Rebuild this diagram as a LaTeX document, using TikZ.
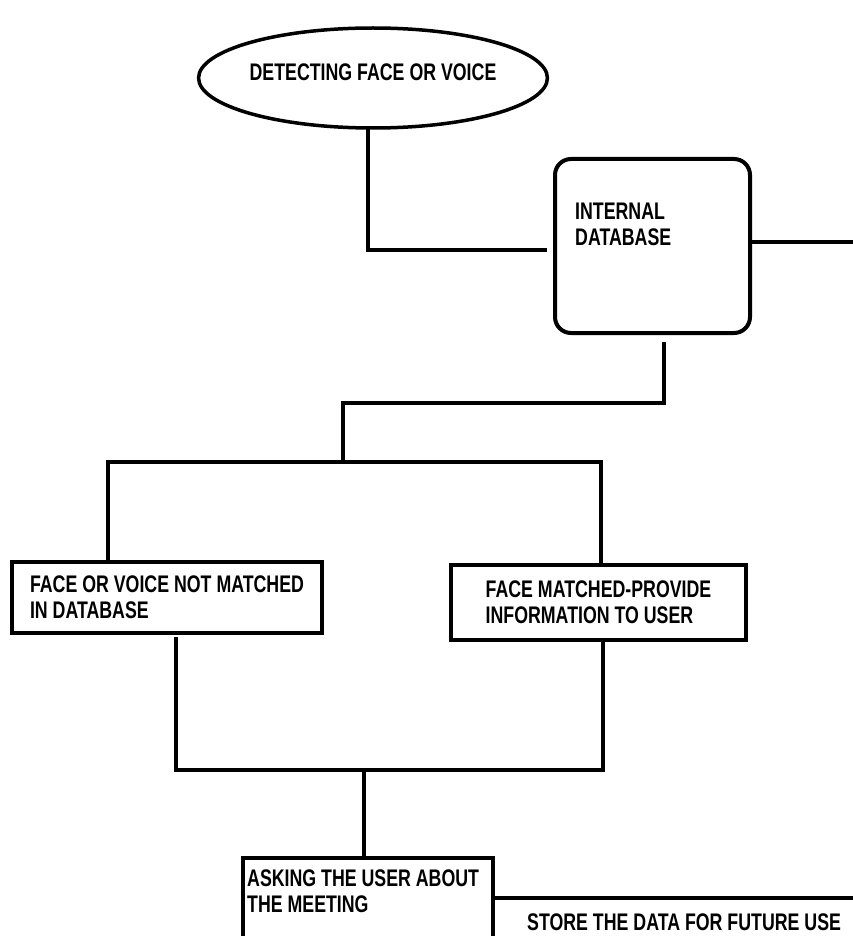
\documentclass[tikz,border=0pt]{standalone}
\usepackage{fontspec}
\setmainfont{Liberation Sans}[FakeStretch=0.74]
\usepackage{tikz}
\usetikzlibrary{arrows.meta,calc,positioning,shapes.geometric}

\begin{document}
\begin{tikzpicture}[line cap=rect,line join=miter,x=1pt,y=-1pt,
    wire/.style={line width=4pt},
    oval/.style={draw,ellipse,line width=3.5pt,minimum width=290pt,minimum height=100pt,inner sep=0pt,text depth=12pt},
    box/.style={draw,line width=4pt,inner sep=0pt,align=left},
    lbl/.style={inner sep=0pt,align=left},
    every node/.style={font=\bfseries\fontsize{24}{26}\selectfont}]
                \useasboundingbox (0,0) rectangle (853,936);
                \coordinate (rim) at (853,0);
                \node [oval] (detect) at (373,78) {DETECTING FACE OR VOICE};
                \node [box,rounded corners=16pt,minimum width=195pt,minimum height=174pt] (db) at (652.5,246) {};
                \node [lbl,anchor=north west] (dbtext) at ($(db.north west)+(22,46)$) {INTERNAL\\DATABASE};
                \node [box,minimum width=310pt,minimum height=71pt] (nomatch) at (167,597.5) {FACE OR VOICE NOT MATCHED\\IN DATABASE};
                \node [box,minimum width=295pt,minimum height=75pt] (match) at (598.5,602.5) {FACE MATCHED-PROVIDE\\INFORMATION TO USER};
                \node [box,minimum width=250pt,minimum height=110pt] (ask) at (368,913) {};
                \node [lbl,anchor=north west] (asktext) at ($(ask.north west)+(6,14)$) {ASKING THE USER ABOUT\\THE MEETING};
                \node [lbl,anchor=west] (store) at (527,922) {STORE THE DATA FOR FUTURE USE};
                \coordinate (j1) at (343,403);
                \coordinate (j2) at (343,462);
                \coordinate (k1) at (364,770);
                \draw [wire] ([xshift=-5pt]detect.south) |- ([xshift=-8pt,yshift=-4pt]db.west);
                \draw [wire] ([yshift=4pt]db.east) -- ([yshift=4pt]db.east -| rim);
                \draw [wire] ([xshift=11.5pt,yshift=-9pt]db.south) |- (j1) -- (j2);
                \draw [wire] ([xshift=-59pt]nomatch.north) |- (j2) -| ([xshift=2.5pt]match.north);
                \draw [wire] ([xshift=9pt,yshift=-4pt]nomatch.south) |- (k1) -| ([xshift=4.5pt]match.south);
                \draw [wire] (k1) -- (k1 |- ask.north);
                \draw [wire] ([yshift=15pt]ask.east) -- ([yshift=15pt]ask.east -| rim);
            \end{tikzpicture}
\end{document}
